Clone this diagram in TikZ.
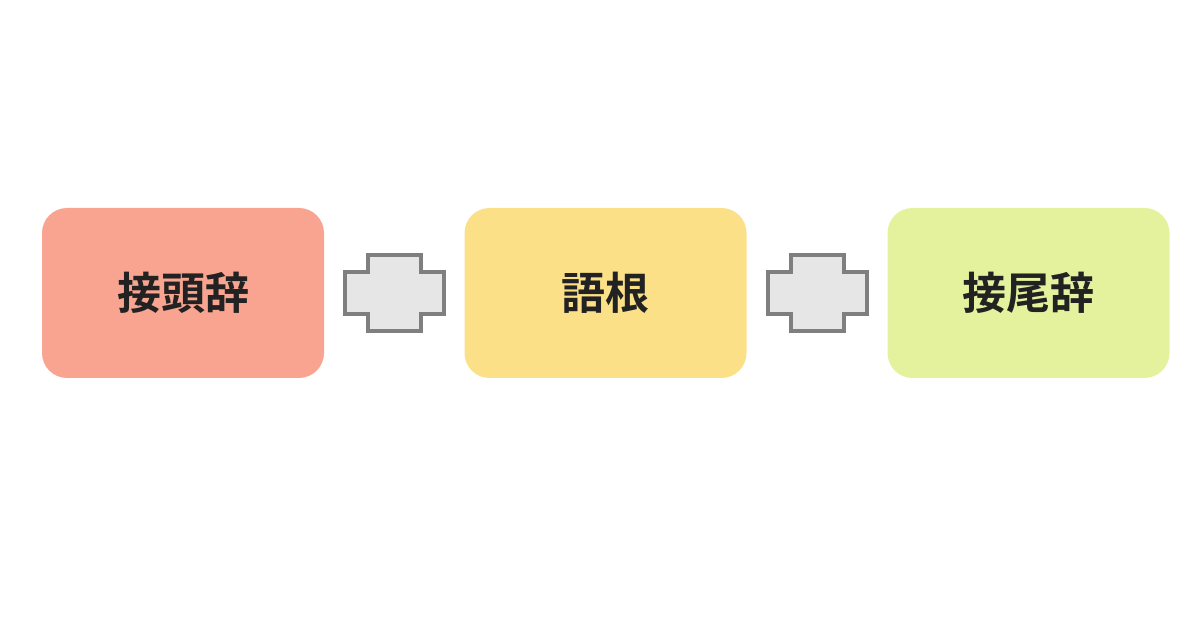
\documentclass[tikz,border=0pt]{standalone}
\usepackage{fontspec}
\newfontfamily\cjk{Noto Sans CJK JP Bold}
\definecolor{c1}{HTML}{F8A491}
\definecolor{c2}{HTML}{FBE088}
\definecolor{c3}{HTML}{E5F29D}
\definecolor{pf}{HTML}{E6E6E6}
\definecolor{pd}{HTML}{7F7F7F}
\definecolor{tx}{HTML}{222222}
\begin{document}
\begin{tikzpicture}[x=1pt,y=-1pt,
  termbox/.style={rounded corners=25pt, draw=none, minimum width=282pt, minimum height=170pt, inner sep=0pt, font=\cjk\fontsize{44}{50}\selectfont, text=tx},
  plusshape/.style={fill=pf, draw=pd, line width=4pt}]
\useasboundingbox (0,0) rectangle (1200,628);
\node[termbox, fill=c1] (pre) at (183,293) {接頭辞};
\node[termbox, fill=c2] (root) at (605.5,293) {語根};
\node[termbox, fill=c3] (suf) at (1028.5,293) {接尾辞};
\foreach \name/\cx in {p1/394.5, p2/817.5}{
  \coordinate (\name) at (\cx,293);
  \draw[plusshape] ([shift={(-26.5,-38)}]\name) -- ([shift={(26.5,-38)}]\name) -- ([shift={(26.5,-21)}]\name) -- ([shift={(49.5,-21)}]\name) -- ([shift={(49.5,21)}]\name) -- ([shift={(26.5,21)}]\name) -- ([shift={(26.5,38)}]\name) -- ([shift={(-26.5,38)}]\name) -- ([shift={(-26.5,21)}]\name) -- ([shift={(-49.5,21)}]\name) -- ([shift={(-49.5,-21)}]\name) -- ([shift={(-26.5,-21)}]\name) -- cycle;
}
\end{tikzpicture}
\end{document}
